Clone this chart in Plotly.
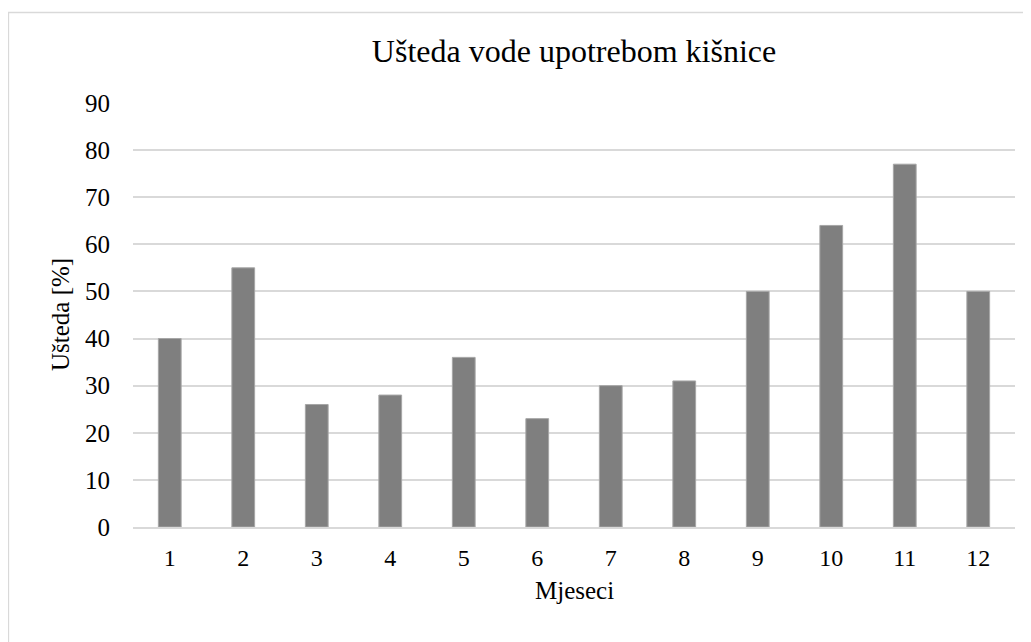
import plotly.graph_objects as go

months = [str(i) for i in range(1, 13)]
savings = [40, 55, 26, 28, 36, 23, 30, 31, 50, 64, 77, 50]
y_ticks = list(range(0, 100, 10))

title_text = "Ušteda vode upotrebom kišnice"
x_title = "Mjeseci"
y_title = "Ušteda [%]"

FONT = "Liberation Serif"

# page is offset by the 8px body margin
OFF = 8
W, H = 1031, 642
L, R, T, B = 133 - OFF, W - (1015 - OFF), 102 - OFF, H - (527 - OFF)
pw, ph = W - L - R, H - T - B


def px(x):
    return (x - OFF - L) / pw


def py(y):
    return (H - B - (y - OFF)) / ph


fig = go.Figure(go.Bar(
    x=months, y=savings,
    marker=dict(color="#7f7f7f", line=dict(color="#a6a6a6", width=1)),
    width=0.31,
))

fig.update_layout(
    width=W, height=H,
    paper_bgcolor="white", plot_bgcolor="white",
    margin=dict(l=L, r=R, t=T, b=B),
    font=dict(family=FONT, color="#000000", size=25),
    title=dict(text=title_text, x=0.5, xref="paper", xanchor="center",
               y=1 - (51 - OFF) / H, yanchor="middle",
               font=dict(family=FONT, size=32, color="#000000")),
    showlegend=False,
    shapes=[dict(type="rect", xref="paper", yref="paper",
                 x0=px(8.5), x1=px(1045), y0=py(660), y1=py(12.5),
                 line=dict(color="#d9d9d9", width=1.3), layer="below")],
    annotations=[
        dict(text=x_title, xref="paper", yref="paper", x=0.5, y=py(590),
             xanchor="center", yanchor="middle", showarrow=False,
             font=dict(family=FONT, size=25)),
        dict(text=y_title, xref="paper", yref="paper", x=px(60), y=py(315),
             xanchor="center", yanchor="middle", showarrow=False, textangle=-90,
             font=dict(family=FONT, size=25)),
    ],
)

fig.update_xaxes(
    type="category", showgrid=False, showline=True, linecolor="#d9d9d9", linewidth=1.5,
    ticks="", ticklabelstandoff=8, tickfont=dict(family=FONT, size=24),
    automargin=False,
)
fig.update_yaxes(
    range=[0, 90.2], tickvals=y_ticks, showgrid=True, gridcolor="#d9d9d9", gridwidth=1.5,
    zeroline=False, showline=False, ticks="", ticklabelstandoff=22,
    tickfont=dict(family=FONT, size=25), automargin=False,
)

fig.write_html("out.html")
